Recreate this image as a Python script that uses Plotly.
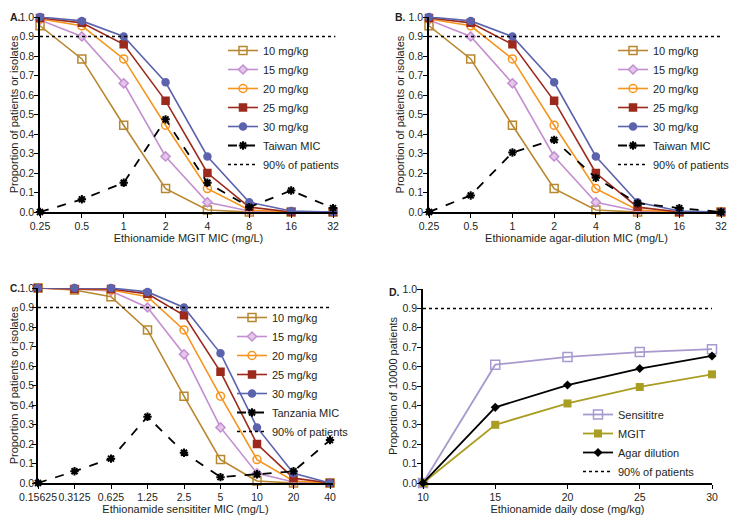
import math
import plotly.graph_objects as go

# ---------------- data ----------------
mic_ab = [0.25, 0.5, 1, 2, 4, 8, 16, 32]
mic_ab_labels = ["0.25", "0.5", "1", "2", "4", "8", "16", "32"]
mic_c = [0.15625, 0.3125, 0.625, 1.25, 2.5, 5, 10, 20, 40]
mic_c_labels = ["0.15625", "0.3125", "0.625", "1.25", "2.5", "5", "10", "20", "40"]

dose_names = ["10 mg/kg", "15 mg/kg", "20 mg/kg", "25 mg/kg", "30 mg/kg"]

pta10_ab = [0.955, 0.785, 0.445, 0.12, 0.01, 0.0, 0.0, 0.0]
pta15_ab = [0.985, 0.90, 0.66, 0.285, 0.05, 0.005, 0.0, 0.0]
pta20_ab = [0.99, 0.955, 0.785, 0.445, 0.12, 0.01, 0.0, 0.0]
pta25_ab = [0.995, 0.97, 0.86, 0.57, 0.20, 0.025, 0.0, 0.0]
pta30_ab = [1.0, 0.98, 0.90, 0.665, 0.285, 0.05, 0.005, 0.0]

pta10_c = [1.0, 0.99, 0.955, 0.785, 0.445, 0.12, 0.01, 0.0, 0.0]
pta15_c = [1.0, 0.995, 0.985, 0.90, 0.66, 0.285, 0.05, 0.005, 0.0]
pta20_c = [1.0, 0.995, 0.99, 0.955, 0.785, 0.445, 0.12, 0.01, 0.0]
pta25_c = [1.0, 0.995, 0.995, 0.97, 0.86, 0.57, 0.20, 0.025, 0.0]
pta30_c = [1.0, 1.0, 1.0, 0.98, 0.90, 0.665, 0.285, 0.05, 0.0]

taiwan_mgit = [0.0, 0.065, 0.15, 0.475, 0.15, 0.025, 0.11, 0.02]
taiwan_agar = [0.0, 0.085, 0.305, 0.37, 0.175, 0.045, 0.02, 0.0]
tanzania_sens = [0.0, 0.06, 0.125, 0.34, 0.155, 0.03, 0.045, 0.06, 0.22]

daily_dose = [10, 15, 20, 25, 30]
cfr_sensititre = [0.0, 0.61, 0.65, 0.675, 0.69]
cfr_mgit = [0.0, 0.30, 0.41, 0.495, 0.56]
cfr_agar = [0.0, 0.39, 0.505, 0.59, 0.655]

target = 0.9
y_ticks = [0.0, 0.1, 0.2, 0.3, 0.4, 0.5, 0.6, 0.7, 0.8, 0.9, 1.0]
x_ticks_d = [10, 15, 20, 25, 30]

# ---------------- styles ----------------
PAGE_W, PAGE_H = 752, 521
OFF = 8                      # default body margin of the html page
W, H = PAGE_W - OFF, PAGE_H - OFF
FONT = "Liberation Sans, Arial, Helvetica, sans-serif"
INK = "#231f20"


def fx(p):
    return (p - OFF) / W


def fy(p):
    return 1 - (p - OFF) / H


dose_colors = ["#b8872f", "#c48fd1", "#f7941d", "#9c2a1c", "#5c63ad"]
dose_symbols = ["square-open", "diamond", "circle-open", "square", "circle"]
dose_sizes = [8, 7, 8, 7, 7]

fig = go.Figure()


def add_dose_curves(x, series, xa, ya, leg):
    for name, ys, col, sym, sz in zip(dose_names, series, dose_colors, dose_symbols, dose_sizes):
        marker = dict(symbol=sym, size=sz, color=col, line=dict(color=col, width=1.5))
        if sym == "diamond":
            marker = dict(symbol="diamond", size=sz, color="#e4c6ea",
                          line=dict(color=col, width=1.5))
        fig.add_trace(go.Scatter(
            x=x, y=ys, name=name, mode="lines+markers",
            line=dict(color=col, width=1.6), marker=marker,
            xaxis=xa, yaxis=ya, legend=leg, cliponaxis=False))


def add_mic_dist(x, ys, name, xa, ya, leg):
    fig.add_trace(go.Scatter(
        x=x, y=ys, name=name, mode="lines+markers",
        line=dict(color="black", width=1.8, dash="dash"),
        marker=dict(symbol="asterisk-open", size=7, color="black",
                    line=dict(color="black", width=2.0)),
        xaxis=xa, yaxis=ya, legend=leg, cliponaxis=False))


def add_target(x0, x1, xa, ya, leg):
    fig.add_trace(go.Scatter(
        x=[x0, x1], y=[target, target], name="90% of patients", mode="lines",
        line=dict(color="black", width=1.5, dash="dot"),
        xaxis=xa, yaxis=ya, legend=leg, cliponaxis=False))


# Panel A
add_dose_curves(mic_ab, [pta10_ab, pta15_ab, pta20_ab, pta25_ab, pta30_ab], "x", "y", "legend")
add_mic_dist(mic_ab, taiwan_mgit, "Taiwan MIC", "x", "y", "legend")
add_target(mic_ab[0], mic_ab[-1] * 1.04, "x", "y", "legend")

# Panel B
add_dose_curves(mic_ab, [pta10_ab, pta15_ab, pta20_ab, pta25_ab, pta30_ab], "x2", "y2", "legend2")
add_mic_dist(mic_ab, taiwan_agar, "Taiwan MIC", "x2", "y2", "legend2")
add_target(mic_ab[0], mic_ab[-1] * 1.02, "x2", "y2", "legend2")

# Panel C
add_dose_curves(mic_c, [pta10_c, pta15_c, pta20_c, pta25_c, pta30_c], "x3", "y3", "legend3")
add_mic_dist(mic_c, tanzania_sens, "Tanzania MIC", "x3", "y3", "legend3")
add_target(mic_c[0], mic_c[-1] * 1.02, "x3", "y3", "legend3")

# Panel D
fig.add_trace(go.Scatter(
    x=daily_dose, y=cfr_sensititre, name="Sensititre", mode="lines+markers",
    line=dict(color="#a899cf", width=1.8),
    marker=dict(symbol="square-open", size=9, color="#a899cf", line=dict(color="#a899cf", width=1.5)),
    xaxis="x4", yaxis="y4", legend="legend4", cliponaxis=False))
fig.add_trace(go.Scatter(
    x=daily_dose, y=cfr_mgit, name="MGIT", mode="lines+markers",
    line=dict(color="#a99d22", width=1.8),
    marker=dict(symbol="square", size=8, color="#a99d22"),
    xaxis="x4", yaxis="y4", legend="legend4", cliponaxis=False))
fig.add_trace(go.Scatter(
    x=daily_dose, y=cfr_agar, name="Agar dilution", mode="lines+markers",
    line=dict(color="black", width=1.8),
    marker=dict(symbol="diamond", size=7, color="black"),
    xaxis="x4", yaxis="y4", legend="legend4", cliponaxis=False))
add_target(daily_dose[0], daily_dose[-1], "x4", "y4", "legend4")


# ---------------- axes ----------------
def xdom(left, right):
    return [fx(left), fx(right)]


def ydom(top, bottom):
    return [fy(bottom), fy(top)]


axis_common = dict(showline=True, linecolor="black", linewidth=1.6, ticks="outside",
                   ticklen=4, tickwidth=1.4, tickcolor="black", showgrid=False,
                   zeroline=False, automargin=False, tickangle=0,
                   tickfont=dict(family=FONT, size=10.5, color=INK))


def log_range(vals, right_pad_px, span_px):
    lo = math.log10(vals[0])
    hi = math.log10(vals[-1])
    return [lo, hi + (hi - lo) * right_pad_px / span_px]


def ttl(text, standoff):
    return dict(text=text, font=dict(family=FONT, size=11, color=INK), standoff=standoff)


def yaxis(top, bottom, anchor, title, standoff, lab_standoff=-2):
    return dict(domain=ydom(top, bottom), range=[0, 1], tickvals=y_ticks, tickformat=".1f",
                anchor=anchor, ticklabelstandoff=lab_standoff, title=ttl(title, standoff), **axis_common)


fig.update_layout(
    template="none",
    xaxis=dict(domain=xdom(40, 337), type="log", range=log_range(mic_ab, 4, 293),
               tickvals=mic_ab, ticktext=mic_ab_labels, anchor="y",
               title=ttl("Ethionamide MGIT MIC (mg/L)", 2), **axis_common),
    yaxis=yaxis(17, 212, "x", "Proportion of patients or isolates", 2),
    xaxis2=dict(domain=xdom(429, 724), type="log", range=log_range(mic_ab, 3, 292),
                tickvals=mic_ab, ticktext=mic_ab_labels, anchor="y2",
                title=ttl("Ethionamide agar-dilution MIC (mg/L)", 2), **axis_common),
    yaxis2=yaxis(17, 212, "x2", "Proportion of patients or isolates", 2),
    xaxis3=dict(domain=xdom(38, 333), type="log", range=log_range(mic_c, 3, 292),
                tickvals=mic_c, ticktext=mic_c_labels, anchor="y3",
                title=ttl("Ethionamide sensititer MIC (mg/L)", 2), **axis_common),
    yaxis3=yaxis(288, 483, "x3", "Proportion of patients or isolates", 4, lab_standoff=-4),
    xaxis4=dict(domain=xdom(423, 712), range=[10, 30], tickvals=x_ticks_d, anchor="y4",
                title=ttl("Ethionamide daily dose (mg/kg)", 2), **axis_common),
    yaxis4=yaxis(289, 483, "x4", "Proportion of 10000 patients", 3),
)

leg_common = dict(xanchor="left", yanchor="top", bgcolor="rgba(0,0,0,0)", borderwidth=0,
                  font=dict(family=FONT, size=11, color=INK), itemwidth=30)
fig.update_layout(
    legend=dict(x=fx(223), y=fy(36), **leg_common),
    legend2=dict(x=fx(613), y=fy(36), **leg_common),
    legend3=dict(x=fx(232), y=fy(303), **leg_common),
    legend4=dict(x=fx(578), y=fy(400), **leg_common),
)

for lab, xp, yp, fs in [("A.", 8, 17, 10.5), ("B.", 393, 17, 10.5), ("C.", 8, 288, 10), ("D.", 387, 292, 10.5)]:
    fig.add_annotation(text="<b>%s</b>" % lab, xref="paper", yref="paper", x=fx(xp), y=fy(yp),
                       xanchor="left", yanchor="middle", showarrow=False,
                       font=dict(family=FONT, size=fs, color=INK))

fig.update_layout(width=W, height=H, margin=dict(l=0, r=0, t=0, b=0),
                  paper_bgcolor="white", plot_bgcolor="white", showlegend=True)

fig.write_html("out.html")
